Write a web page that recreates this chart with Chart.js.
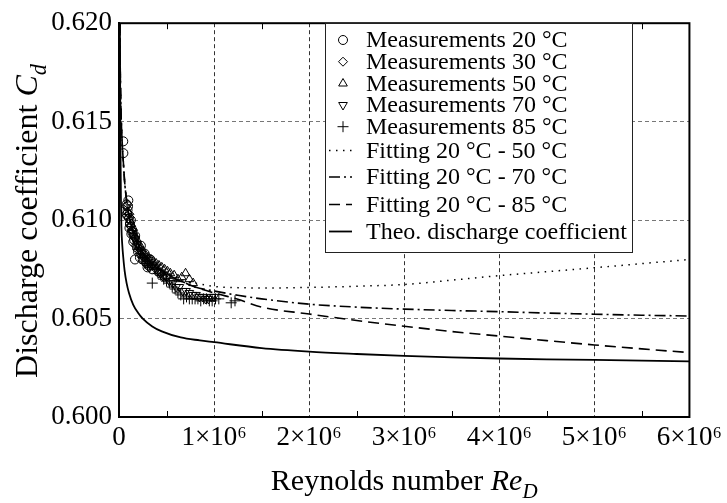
<!DOCTYPE html>
<html>
<head>
<meta charset="utf-8">
<script src="https://cdn.jsdelivr.net/npm/chart.js@4.4.1/dist/chart.umd.min.js"></script>
<style>
html,body{margin:0;padding:0;background:#fff;}
#wrap{width:727px;height:503px;position:relative;}
</style>
</head>
<body>
<div id="wrap"><canvas id="c" width="727" height="503"></canvas></div>
<script>
// ---- tick labels ----
const xTickValues = [0, 1, 2, 3, 4, 5, 6];               // Reynolds number in millions
const xTickLabels = ['0', '1×10⁶', '2×10⁶', '3×10⁶', '4×10⁶', '5×10⁶', '6×10⁶'];
const yTickValues = [0.600, 0.605, 0.610, 0.615, 0.620];
const yTickLabels = ['0.600', '0.605', '0.610', '0.615', '0.620'];

// ---- measurements (Re in millions, discharge coefficient) ----
const re20 = [0.045, 0.046, 0.080, 0.085, 0.090, 0.095, 0.098, 0.105, 0.110, 0.115, 0.125, 0.130, 0.140, 0.150, 0.160, 0.168, 0.170, 0.190, 0.200, 0.220, 0.230, 0.250, 0.270, 0.280, 0.300, 0.310, 0.330, 0.350];
const cd20 = [0.6140, 0.6134, 0.6108, 0.6103, 0.6105, 0.6107, 0.6110, 0.6101, 0.6096, 0.6098, 0.6100, 0.6093, 0.6094, 0.6089, 0.6090, 0.6080, 0.6092, 0.6086, 0.6084, 0.6081, 0.6087, 0.6080, 0.6083, 0.6079, 0.6076, 0.6077, 0.6080, 0.6075];

const re30 = [0.070, 0.078, 0.085, 0.092, 0.100, 0.110, 0.120, 0.130, 0.140, 0.150, 0.160, 0.175, 0.190, 0.205, 0.220, 0.240, 0.260, 0.280, 0.300, 0.320, 0.340, 0.365, 0.390, 0.415, 0.440, 0.470, 0.500];
const cd30 = [0.6107, 0.6102, 0.6104, 0.6108, 0.6101, 0.6103, 0.6097, 0.6095, 0.6095, 0.6092, 0.6091, 0.6087, 0.6088, 0.6086, 0.6084, 0.6082, 0.6081, 0.6078, 0.6079, 0.6076, 0.6077, 0.6077, 0.6075, 0.6073, 0.6073, 0.6071, 0.6071];

const re50 = [0.100, 0.115, 0.130, 0.150, 0.170, 0.190, 0.210, 0.235, 0.260, 0.285, 0.310, 0.335, 0.360, 0.390, 0.420, 0.450, 0.480, 0.510, 0.540, 0.580, 0.620, 0.660, 0.700, 0.740, 0.780];
const cd50 = [0.6104, 0.6100, 0.6098, 0.6096, 0.6092, 0.6090, 0.6087, 0.6086, 0.6083, 0.6082, 0.6081, 0.6080, 0.6079, 0.6078, 0.6077, 0.6076, 0.6075, 0.6074, 0.6073, 0.6072, 0.6070, 0.6071, 0.6073, 0.6070, 0.6068];

const re70 = [0.150, 0.170, 0.190, 0.215, 0.240, 0.265, 0.290, 0.320, 0.350, 0.380, 0.410, 0.440, 0.470, 0.500, 0.530, 0.565, 0.600, 0.635, 0.670, 0.705, 0.740, 0.775, 0.810, 0.845, 0.880, 0.910, 0.940, 0.970, 1.000];
const cd70 = [0.6092, 0.6090, 0.6088, 0.6085, 0.6083, 0.6081, 0.6080, 0.6078, 0.6077, 0.6076, 0.6074, 0.6073, 0.6072, 0.6071, 0.6069, 0.6068, 0.6066, 0.6066, 0.6064, 0.6064, 0.6063, 0.6062, 0.6062, 0.6061, 0.6061, 0.6060, 0.6060, 0.6061, 0.6061];

const re85 = [0.200, 0.225, 0.250, 0.275, 0.300, 0.325, 0.350, 0.380, 0.410, 0.440, 0.470, 0.500, 0.530, 0.560, 0.590, 0.620, 0.650, 0.680, 0.710, 0.740, 0.770, 0.800, 0.830, 0.860, 0.890, 0.920, 0.950, 0.980, 1.015, 1.050, 1.180, 1.220];
const cd85 = [0.6085, 0.6083, 0.6081, 0.6078, 0.6077, 0.6076, 0.6068, 0.6075, 0.6073, 0.6072, 0.6070, 0.6069, 0.6068, 0.6066, 0.6065, 0.6063, 0.6062, 0.6060, 0.6061, 0.6060, 0.6060, 0.6060, 0.6060, 0.6059, 0.6060, 0.6060, 0.6059, 0.6059, 0.6060, 0.6060, 0.6058, 0.6059];

// ---- fitted curves ----
const fitRe = [0.008, 0.012, 0.018, 0.025, 0.035, 0.045, 0.060, 0.080, 0.100, 0.130, 0.170, 0.220, 0.300, 0.400, 0.500, 0.600, 0.700, 0.800, 1.000, 1.250, 1.500, 2.000, 2.500, 3.000, 3.500, 4.000, 4.500, 5.000, 5.500, 6.000];
const fit2050 = [0.6210, 0.6182, 0.6162, 0.6149, 0.6138, 0.6130, 0.6119, 0.6110, 0.6104, 0.6097, 0.6091, 0.6086, 0.6080, 0.6076, 0.6073, 0.6071, 0.6069, 0.60680, 0.60663, 0.60657, 0.60655, 0.60658, 0.60664, 0.60673, 0.60695, 0.60718, 0.60738, 0.60758, 0.60779, 0.60800];
const fit2070 = [0.6210, 0.6182, 0.6162, 0.6149, 0.6138, 0.6130, 0.6119, 0.6110, 0.6104, 0.6097, 0.6091, 0.6086, 0.6080, 0.6076, 0.6073, 0.6070, 0.6068, 0.60660, 0.60640, 0.60618, 0.60600, 0.60573, 0.60558, 0.60548, 0.60541, 0.60535, 0.60528, 0.60522, 0.60517, 0.60513];
const fit2085 = [0.6210, 0.6182, 0.6162, 0.6149, 0.6138, 0.6130, 0.6119, 0.6110, 0.6104, 0.6097, 0.6091, 0.6086, 0.6080, 0.6076, 0.6073, 0.6070, 0.6068, 0.60660, 0.60630, 0.60598, 0.60558, 0.60523, 0.60490, 0.60461, 0.60434, 0.60411, 0.60388, 0.60366, 0.60346, 0.60327];

// ---- theoretical discharge coefficient ----
const theoRe = [0.006, 0.010, 0.015, 0.020, 0.025, 0.035, 0.045, 0.060, 0.080, 0.105, 0.150, 0.200, 0.250, 0.350, 0.450, 0.650, 0.850, 1.000, 1.500, 2.000, 2.500, 3.000, 3.500, 4.000, 4.500, 5.000, 5.500, 6.000];
const theoCd = [0.6230, 0.6190, 0.6140, 0.6112, 0.6097, 0.6087, 0.6081, 0.6074, 0.6068, 0.6063, 0.6057, 0.6053, 0.6050, 0.6046, 0.60435, 0.60404, 0.60389, 0.60380, 0.60350, 0.60332, 0.60320, 0.60310, 0.60303, 0.60297, 0.60293, 0.60290, 0.60286, 0.60282];

const labels = ['Measurements 20 °C', 'Measurements 30 °C', 'Measurements 50 °C', 'Measurements 70 °C', 'Measurements 85 °C',
                'Fitting 20 °C - 50 °C', 'Fitting 20 °C - 70 °C', 'Fitting 20 °C - 85 °C', 'Theo. discharge coefficient'];

const pts = (xs, ys) => xs.map((x, i) => ({x: x, y: ys[i]}));
const SERIF = "'Liberation Serif', 'Times New Roman', serif";

function scatterDs(label, xs, ys, style, radius, rotation) {
  return {label, data: pts(xs, ys), showLine: false, pointStyle: style, pointRadius: radius,
          rotation: rotation || 0, borderColor: '#000', backgroundColor: 'rgba(0,0,0,0)',
          pointBorderWidth: 1, clip: 0, kind: 'point'};
}
function lineDs(label, xs, ys, dash, width) {
  return {label, data: pts(xs, ys), showLine: true, pointRadius: 0, borderColor: '#000',
          borderWidth: width, borderDash: dash, cubicInterpolationMode: 'monotone', fill: false,
          clip: 0, kind: 'line'};
}

const datasets = [
  scatterDs(labels[0], re20, cd20, 'circle', 4.5),
  scatterDs(labels[1], re30, cd30, 'rectRot', 4.5),
  scatterDs(labels[2], re50, cd50, 'triangle', 5),
  scatterDs(labels[3], re70, cd70, 'triangle', 5, 180),
  scatterDs(labels[4], re85, cd85, 'cross', 5.5),
  lineDs(labels[5], fitRe, fit2050, [1.5, 5.5], 1.5),
  lineDs(labels[6], fitRe, fit2070, [11, 4, 2, 4], 1.6),
  lineDs(labels[7], fitRe, fit2085, [11, 6], 1.6),
  lineDs(labels[8], theoRe, theoCd, [], 1.8)
];

function drawRich(ctx, parts, x, y, size) {
  let total = 0;
  const fonts = parts.map(p => {
    const s = p.sub ? size * 0.7 : size;
    const f = (p.italic ? 'italic ' : '') + s + 'px ' + SERIF;
    ctx.font = f;
    const w = ctx.measureText(p.text).width;
    total += w;
    return {f, w};
  });
  let cx = x - total / 2;
  parts.forEach((p, i) => {
    ctx.font = fonts[i].f;
    ctx.fillText(p.text, cx, y + (p.sub ? size * 0.28 : 0));
    cx += fonts[i].w;
  });
}

function drawMarker(ctx, ds, x, y) {
  if (Chart.helpers && Chart.helpers.drawPoint) {
    ctx.save();
    ctx.strokeStyle = '#000'; ctx.fillStyle = 'rgba(0,0,0,0)'; ctx.lineWidth = 1;
    Chart.helpers.drawPoint(ctx, {pointStyle: ds.pointStyle, radius: ds.pointRadius, rotation: ds.rotation, borderWidth: 1}, x, y);
    ctx.restore();
  }
}

const decorPlugin = {
  id: 'decor',
  afterDraw(chart) {
    const {ctx, chartArea: a, scales} = chart;
    const xs = scales.x;
    ctx.save();
    ctx.strokeStyle = '#000'; ctx.lineWidth = 1; ctx.setLineDash([]);
    xs.ticks.forEach(t => {
      if (xTickValues.indexOf(t.value) === -1) {
        const px = Math.round(xs.getPixelForValue(t.value)) + 0.5;
        ctx.beginPath();
        ctx.moveTo(px, a.bottom); ctx.lineTo(px, a.bottom - 6);
        ctx.moveTo(px, a.top); ctx.lineTo(px, a.top + 6);
        ctx.stroke();
      }
    });
    ctx.lineWidth = 2;
    ctx.strokeRect(a.left, a.top, a.right - a.left, a.bottom - a.top);

    // legend box
    const bx = 325, by = 23, bw = 307, bh = 229;
    ctx.fillStyle = '#fff';
    ctx.fillRect(bx, by, bw, bh);
    ctx.lineWidth = 1;
    ctx.strokeStyle = '#222';
    ctx.strokeRect(bx + 0.5, by + 0.5, bw, bh);
    const rows = [40, 61.7, 83.5, 105, 126.7, 150.5, 177, 204.5, 231.5];
    ctx.fillStyle = '#000';
    ctx.textBaseline = 'middle';
    ctx.textAlign = 'left';
    chart.data.datasets.forEach((ds, i) => {
      const ry = rows[i];
      if (ds.kind === 'point') {
        drawMarker(ctx, ds, 343, ry);
      } else {
        ctx.save();
        ctx.strokeStyle = '#000';
        ctx.lineWidth = ds.borderWidth;
        ctx.setLineDash(ds.borderDash || []);
        ctx.beginPath();
        ctx.moveTo(329, ry); ctx.lineTo(352, ry);
        ctx.stroke();
        ctx.restore();
      }
      ctx.font = '24px ' + SERIF;
      ctx.fillStyle = '#000';
      ctx.fillText(ds.label, 366, ry + 1);
    });

    // axis titles
    ctx.textAlign = 'left';
    ctx.textBaseline = 'alphabetic';
    ctx.fillStyle = '#000';
    drawRich(ctx, [{text: 'Reynolds number '}, {text: 'Re', italic: true}, {text: 'D', italic: true, sub: true}],
             (a.left + a.right) / 2, 490, 30);
    ctx.save();
    ctx.translate(37, 221);
    ctx.rotate(-Math.PI / 2);
    drawRich(ctx, [{text: 'Discharge coefficient '}, {text: 'C', italic: true}, {text: 'd', italic: true, sub: true}],
             0, 0, 32);
    ctx.restore();
    ctx.restore();
  }
};

new Chart(document.getElementById('c'), {
  type: 'scatter',
  data: {datasets},
  options: {
    responsive: false,
    animation: false,
    devicePixelRatio: 1,
    events: [],
    layout: {padding: {left: 0, top: 18, right: 37, bottom: 0}},
    plugins: {legend: {display: false}, tooltip: {enabled: false}, title: {display: false}},
    scales: {
      x: {
        type: 'linear', min: 0, max: 6, position: 'bottom',
        afterFit: s => { s.height = 86; },
        ticks: {
          stepSize: 0.5, autoSkip: false, maxRotation: 0, minRotation: 0, padding: 5,
          color: '#000', font: {family: SERIF, size: 27},
          callback: v => { const k = xTickValues.indexOf(v); return k === -1 ? '' : xTickLabels[k]; }
        },
        grid: {
          drawTicks: false, lineWidth: 1,
          color: c => (c.tick && xTickValues.indexOf(c.tick.value) > 0 && c.tick.value < 6) ? '#333' : 'rgba(0,0,0,0)'
        },
        border: {display: true, color: '#000', width: 2, dash: [4, 3]}
      },
      y: {
        type: 'linear', min: 0.600, max: 0.620,
        afterFit: s => { s.width = 119; },
        ticks: {
          stepSize: 0.005, padding: 7, color: '#000', font: {family: SERIF, size: 27},
          callback: v => { const k = Math.round((v - 0.600) / 0.005); return yTickLabels[k]; }
        },
        grid: {
          drawTicks: false, lineWidth: 1,
          color: c => { if (!c.tick) return 'rgba(0,0,0,0)'; const k = Math.round((c.tick.value - 0.6) / 0.005); return (k > 0 && k < 4) ? '#777' : 'rgba(0,0,0,0)'; }
        },
        border: {display: true, color: '#000', width: 2, dash: [4, 3]}
      }
    }
  },
  plugins: [decorPlugin]
});
</script>
</body>
</html>
